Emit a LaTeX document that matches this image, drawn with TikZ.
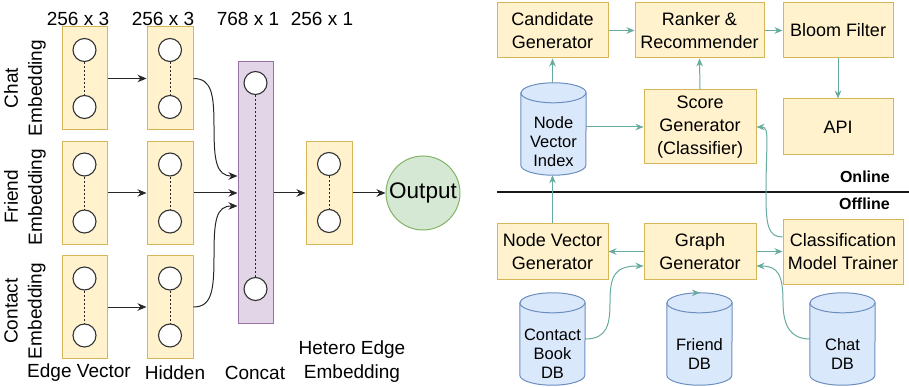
\documentclass[tikz,border=0pt]{standalone}
\usepackage{fontspec}
\setmainfont{Liberation Sans}
\usetikzlibrary{arrows.meta}
\definecolor{yfill}{HTML}{FFF2CC}
\definecolor{ystroke}{HTML}{D6B656}
\definecolor{pfill}{HTML}{E1D5E7}
\definecolor{pstroke}{HTML}{9673A6}
\definecolor{gfill}{HTML}{D5E8D4}
\definecolor{gstroke}{HTML}{82B366}
\definecolor{bfill}{HTML}{DAE8FC}
\definecolor{bstroke}{HTML}{6C8EBF}
\definecolor{tealc}{HTML}{67AB9F}
\newcommand\neur[3]{%
  \node[neuron] (#1-t) at ([yshift=#2]#1.center) {};
  \node[neuron] (#1-b) at ([yshift=-#3]#1.center) {};
  \draw[dots] (#1-t) -- (#1-b);}
\newcommand\drawcyl[1]{%
  \draw[cylst] ([yshift=-10pt]#1.north west) -- ([yshift=10pt]#1.south west)
    arc[start angle=180,end angle=360,x radius=32.5pt,y radius=10pt]
    -- ([yshift=-10pt]#1.north east)
    arc[start angle=0,end angle=180,x radius=32.5pt,y radius=10pt] -- cycle;
  \draw[cylst,fill=none] ([yshift=-10pt]#1.north west)
    arc[start angle=180,end angle=360,x radius=32.5pt,y radius=10pt];}
\begin{document}
\begin{tikzpicture}[x=1pt,y=-1pt,
  ybox/.style={draw=ystroke,fill=yfill,line width=1pt,inner sep=0pt,align=center,
    font=\fontsize{18}{23}\selectfont},
  colbox/.style={draw=ystroke,fill=yfill,line width=1pt,inner sep=0pt,minimum width=46pt,minimum height=103pt},
  neuron/.style={circle,draw=black!80,fill=white,line width=1.1pt,minimum size=23pt,inner sep=0pt},
  dots/.style={dash pattern=on 2pt off 2pt,line width=0.9pt,black!85},
  blk/.style={-{Stealth[length=9pt,width=7.5pt]},line width=1pt,black!85},
  tl/.style={-{Stealth[length=8pt,width=6.5pt]},line width=1pt,tealc},
  lbl/.style={inner sep=0pt,align=center,font=\fontsize{19}{24}\selectfont},
  cylbox/.style={rectangle,draw=none,inner sep=0pt,minimum width=65pt,minimum height=92pt},
  cylst/.style={draw=bstroke,fill=bfill,line width=1pt},
  cyltxt/.style={inner sep=0pt,align=center,font=\fontsize{16.5}{19}\selectfont},
  sect/.style={inner sep=0pt,anchor=east,font=\bfseries\fontsize{16}{19}\selectfont}]
\useasboundingbox (0,0) rectangle (909,387);
% ---------------- left panel ----------------
\node[lbl] (t1) at (78,19) {256 x 3};
\node[lbl] (t2) at (163,19) {256 x 3};
\node[lbl] (t3) at (248,19) {768 x 1};
\node[lbl] (t4) at (322,19) {256 x 1};
\node[lbl,rotate=90] (r1) at (25,88) {Chat\\Embedding};
\node[lbl,rotate=90] (r2) at (25,197) {Friend\\Embedding};
\node[lbl,rotate=90] (r3) at (25,311) {Contact\\Embedding};
\node[colbox,minimum width=45pt] (c1a) at (84.5,78.5) {};
\node[colbox,minimum width=45pt] (c1b) at (84.5,193) {};
\node[colbox,minimum width=45pt] (c1c) at (84.5,307) {};
\node[colbox] (c2a) at (170,78.5) {};
\node[colbox] (c2b) at (170,193) {};
\node[colbox] (c2c) at (170,307) {};
\node[draw=pstroke,fill=pfill,line width=1pt,inner sep=0pt,minimum width=35pt,minimum height=261pt] (cc) at (255.5,192.5) {};
\node[colbox] (he) at (329,193) {};
\node[circle,draw=gstroke,fill=gfill,line width=1pt,inner sep=0pt,minimum size=74pt,
  font=\fontsize{22.5}{26}\selectfont] (out) at (423,193) {Output};
\neur{c1a}{28.5pt}{28.5pt}
\neur{c1b}{28.5pt}{28.5pt}
\neur{c1c}{28.5pt}{28.5pt}
\neur{c2a}{28.5pt}{28.5pt}
\neur{c2b}{28.5pt}{28.5pt}
\neur{c2c}{28.5pt}{28.5pt}
\neur{cc}{109.5pt}{96.5pt}
\neur{he}{29pt}{28pt}
\draw[blk] (c1a.east) -- (c2a.west);
\draw[blk] (c1b.east) -- (c2b.west);
\draw[blk] (c1c.east) -- (c2c.west);
\draw[blk] (c2a.east) .. controls (212,78.5) and (214,95) .. (214,127)
  .. controls (214,160) and (216,176) .. ([yshift=16.5pt]cc.west);
\draw[blk] (c2b.east) -- (c2b.east -| cc.west);
\draw[blk] (c2c.east) .. controls (212,307) and (214,290) .. (214,256)
  .. controls (214,220) and (216,206) .. ([yshift=-13.5pt]cc.west);
\draw[blk] (cc.east |- he.west) -- (he.west);
\draw[blk] (he.east) -- (out.west);
\node[lbl] (b1) at (79,373) {Edge Vector};
\node[lbl] (b2) at (175,373) {Hidden};
\node[lbl] (b3) at (255,373) {Concat};
\node[lbl] (b4) at (352,361.5) {Hetero Edge\\Embedding};
% ---------------- right panel ----------------
\node[ybox,minimum width=111pt,minimum height=55pt] (cand) at (552.5,30.5) {Candidate\\Generator};
\node[ybox,minimum width=129pt,minimum height=55pt] (rank) at (699.5,30.5) {Ranker \&\\Recommender};
\node[ybox,minimum width=110pt,minimum height=55pt] (bloom) at (838,30.5) {Bloom Filter};
\node[ybox,minimum width=112pt,minimum height=74pt] (score) at (700,127) {Score\\Generator\\(Classifier)};
\node[ybox,minimum width=110pt,minimum height=56pt] (api) at (838,127) {API};
\node[ybox,minimum width=111pt,minimum height=55pt] (nvg) at (552.5,251.5) {Node Vector\\Generator};
\node[ybox,minimum width=112pt,minimum height=55pt] (gg) at (700,251.5) {Graph\\Generator};
\node[ybox,minimum width=120pt,minimum height=64pt] (cmt) at (843,252) {Classification\\Model Trainer};
\node[cylbox] (nvi) at (553.5,129) {};
\node[cylbox] (cdb) at (552.5,339) {};
\node[cylbox] (fdb) at (699.5,339) {};
\node[cylbox] (chdb) at (842.5,339) {};
\drawcyl{nvi}
\drawcyl{cdb}
\drawcyl{fdb}
\drawcyl{chdb}
\node[cyltxt] (nvi-t) at ([yshift=-13pt]nvi.center) {Node\\Vector\\Index};
\node[cyltxt] (cdb-t) at ([yshift=-15pt]cdb.center) {Contact\\Book\\DB};
\node[cyltxt] (fdb-t) at ([yshift=-15pt]fdb.center) {Friend\\DB};
\node[cyltxt] (chdb-t) at ([yshift=-15pt]chdb.center) {Chat\\DB};
\coordinate (divL) at (497,192);
\coordinate (divR) at (909,192);
\draw[line width=2.5pt,black!90] (divL) -- (divR);
\node[sect] (online) at (890,177) {Online};
\node[sect] (offline) at (890,204) {Offline};
\draw[tl] (cand.east) -- (rank.west);
\draw[tl] (rank.east) -- (bloom.west);
\draw[tl] (bloom.south) -- (api.north);
\draw[tl] (score.north) -- (rank.south);
\draw[tl] (nvi.north -| cand.south) -- (cand.south);
\draw[tl] (nvi.east |- score.west) -- (score.west);
\draw[tl] (nvg.north) -- (nvg.north |- nvi.south);
\draw[tl] (gg.west) -- (nvg.east);
\draw[tl] (gg.east) -- (gg.east -| cmt.west);
\draw[tl] (fdb.north) -- (fdb.north -| gg.south);
\draw[tl] (cdb.east) .. controls (607,339) and (610,325) .. (610,302)
  .. controls (610,275) and (615,266) .. ([yshift=-14.5pt]gg.west);
\draw[tl] (chdb.west) .. controls (790,339) and (783,325) .. (783,302)
  .. controls (783,275) and (778,266) .. ([yshift=-14.5pt]gg.east);
\draw[tl] ([yshift=15pt]cmt.west) .. controls (768,237) and (766,225) .. (766,195)
  .. controls (766,140) and (770,127) .. (score.east);
\end{tikzpicture}
\end{document}
